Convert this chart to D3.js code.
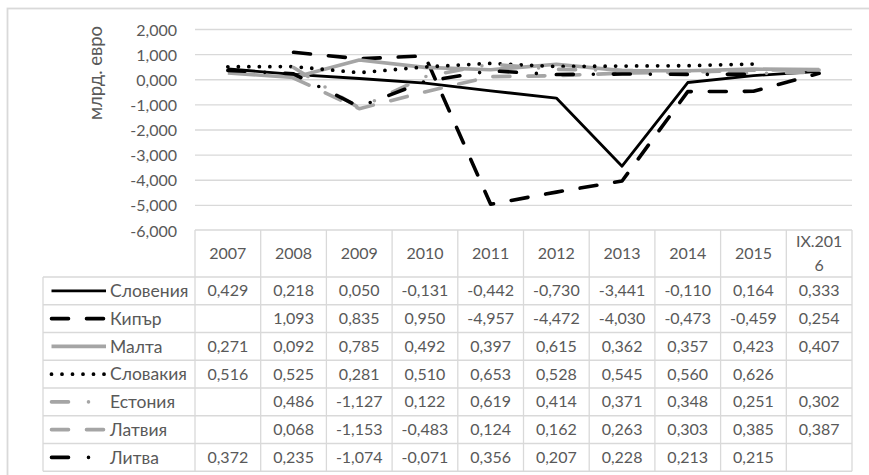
<!DOCTYPE html>
<html>
<head>
<meta charset="utf-8">
<script src="https://cdn.jsdelivr.net/npm/d3@7/dist/d3.min.js"></script>
<style>
  html, body { margin: 0; padding: 0; background: #fff; }
  svg { display: block; font-family: Lato, "Open Sans", sans-serif; }
</style>
</head>
<body>
<svg id="chart" width="869" height="475"></svg>
<script>
// Categories (years) shown along the x axis and as table header
const years = ["2007", "2008", "2009", "2010", "2011", "2012", "2013", "2014", "2015", "IX.2016"];
const headerLines = [["2007"], ["2008"], ["2009"], ["2010"], ["2011"], ["2012"], ["2013"], ["2014"], ["2015"], ["IX.201", "6"]];

// Series values, млрд. евро
const slovenia = [0.429, 0.218, 0.050, -0.131, -0.442, -0.730, -3.441, -0.110, 0.164, 0.333];
const cyprus   = [null, 1.093, 0.835, 0.950, -4.957, -4.472, -4.030, -0.473, -0.459, 0.254];
const malta    = [0.271, 0.092, 0.785, 0.492, 0.397, 0.615, 0.362, 0.357, 0.423, 0.407];
const slovakia = [0.516, 0.525, 0.281, 0.510, 0.653, 0.528, 0.545, 0.560, 0.626, null];
const estonia  = [null, 0.486, -1.127, 0.122, 0.619, 0.414, 0.371, 0.348, 0.251, 0.302];
const latvia   = [null, 0.068, -1.153, -0.483, 0.124, 0.162, 0.263, 0.303, 0.385, 0.387];
const lithuania = [0.372, 0.235, -1.074, -0.071, 0.356, 0.207, 0.228, 0.213, 0.215, null];

const seriesNames = ["Словения", "Кипър", "Малта", "Словакия", "Естония", "Латвия", "Литва"];
const seriesValues = [slovenia, cyprus, malta, slovakia, estonia, latvia, lithuania];

// Y axis ticks
const yTicks = [2, 1, 0, -1, -2, -3, -4, -5, -6];
const yTickLabels = ["2,000", "1,000", "0,000", "-1,000", "-2,000", "-3,000", "-4,000", "-5,000", "-6,000"];
const yTitle = "млрд. евро";

// Line styles per series
const styles = [
  { color: "#000000", width: 2.8, dash: null, cap: "butt" },
  { color: "#000000", width: 3.6, dash: "17,18", cap: "round" },
  { color: "#a5a5a5", width: 3.6, dash: null, cap: "butt" },
  { color: "#000000", width: 3.8, dash: "0,10.5", cap: "round" },
  { color: "#a5a5a5", width: 3.6, dash: "17,20,0,20", cap: "round" },
  { color: "#a5a5a5", width: 3.6, dash: "17,18", cap: "round" },
  { color: "#000000", width: 3.6, dash: "17,20,0,20", cap: "round" }
];

const fmt = v => (v == null ? "" : d3.format(".3f")(v).replace("−", "-").replace(".", ","));

const svg = d3.select("#chart");
const textColor = "#595959";
const gridColor = "#d9d9d9";

// Chart frame
svg.append("rect")
  .attr("x", 7.5).attr("y", 8.5)
  .attr("width", 900).attr("height", 500)
  .attr("fill", "#fff")
  .attr("stroke", gridColor).attr("stroke-width", 1.8);

const plotLeft = 195, plotRight = 852;
const x = d3.scaleBand().domain(years).range([plotLeft, plotRight]);
const y = d3.scaleLinear().domain([-6, 2]).range([230.5, 29.5]);
const xc = c => x(c) + x.bandwidth() / 2;

// Horizontal gridlines
svg.append("g").selectAll("line")
  .data(yTicks.filter(t => t > -6))
  .join("line")
  .attr("x1", plotLeft).attr("x2", plotRight)
  .attr("y1", d => y(d)).attr("y2", d => y(d))
  .attr("stroke", gridColor).attr("stroke-width", 1.3);

// Y axis labels
const yAxis = d3.axisLeft(y).tickValues(yTicks)
  .tickFormat((d, i) => yTickLabels[i]).tickSize(0).tickPadding(0);
const yG = svg.append("g").attr("transform", `translate(177,0)`).call(yAxis);
yG.select(".domain").remove();
yG.selectAll("text")
  .attr("fill", textColor).attr("font-size", 16)
  .attr("font-family", "Lato, sans-serif")
  .attr("dy", "0.35em");

svg.append("text")
  .attr("transform", "translate(102,73) rotate(-90)")
  .attr("text-anchor", "middle")
  .attr("fill", textColor).attr("font-size", 18.5)
  .text(yTitle);

// Data table geometry
const tableTop = y(-6) - 0.5;
const headerH = 47;
const rowH = 27.75;
const legendLeft = 43;
const rowsTop = tableTop + headerH;
const tableBottom = rowsTop + rowH * seriesNames.length;

const tbl = svg.append("g");
// header top line
tbl.append("line").attr("x1", plotLeft).attr("x2", plotRight)
  .attr("y1", tableTop).attr("y2", tableTop)
  .attr("stroke", gridColor).attr("stroke-width", 1.3);
// row lines
tbl.selectAll("line.row")
  .data(d3.range(seriesNames.length + 1))
  .join("line").attr("class", "row")
  .attr("x1", legendLeft).attr("x2", plotRight)
  .attr("y1", i => rowsTop + i * rowH).attr("y2", i => rowsTop + i * rowH)
  .attr("stroke", gridColor).attr("stroke-width", 1.3);
// column lines
tbl.selectAll("line.col")
  .data(years.map(c => x(c)).concat([plotRight]))
  .join("line").attr("class", "col")
  .attr("x1", d => d).attr("x2", d => d)
  .attr("y1", tableTop).attr("y2", tableBottom)
  .attr("stroke", gridColor).attr("stroke-width", 1.3);
tbl.append("line").attr("x1", legendLeft).attr("x2", legendLeft)
  .attr("y1", rowsTop).attr("y2", tableBottom)
  .attr("stroke", gridColor).attr("stroke-width", 1.3);

// header labels
years.forEach((c, i) => {
  const lines = headerLines[i];
  const cy = tableTop + headerH / 2;
  const lh = 24;
  lines.forEach((t, j) => {
    tbl.append("text")
      .attr("x", xc(c))
      .attr("y", cy + (j - (lines.length - 1) / 2) * lh)
      .attr("dy", "0.35em")
      .attr("text-anchor", "middle")
      .attr("fill", textColor).attr("font-size", 16)
      .text(t);
  });
});

// value cells and legend keys
seriesNames.forEach((name, si) => {
  const cy = rowsTop + si * rowH + rowH / 2;
  const st = styles[si];
  tbl.append("line")
    .attr("x1", 51.5).attr("x2", 106)
    .attr("y1", cy).attr("y2", cy)
    .attr("stroke", st.color).attr("stroke-width", st.width)
    .attr("stroke-linecap", st.cap)
    .attr("stroke-dasharray", st.dash);
  tbl.append("text")
    .attr("x", 110).attr("y", cy).attr("dy", "0.35em")
    .attr("fill", textColor).attr("font-size", 17.5)
    .text(name);
  seriesValues[si].forEach((v, ci) => {
    tbl.append("text")
      .attr("x", xc(years[ci])).attr("y", cy).attr("dy", "0.35em")
      .attr("text-anchor", "middle")
      .attr("fill", textColor).attr("font-size", 16)
      .text(fmt(v));
  });
});

// Series lines
const line = d3.line()
  .defined(d => d.v != null)
  .x(d => xc(d.c))
  .y(d => y(d.v));

seriesValues.forEach((vals, si) => {
  const st = styles[si];
  svg.append("path")
    .datum(vals.map((v, i) => ({ c: years[i], v })))
    .attr("fill", "none")
    .attr("stroke", st.color)
    .attr("stroke-width", st.width)
    .attr("stroke-linecap", st.cap)
    .attr("stroke-linejoin", "round")
    .attr("stroke-dasharray", st.dash)
    .attr("d", line);
});
</script>
</body>
</html>
